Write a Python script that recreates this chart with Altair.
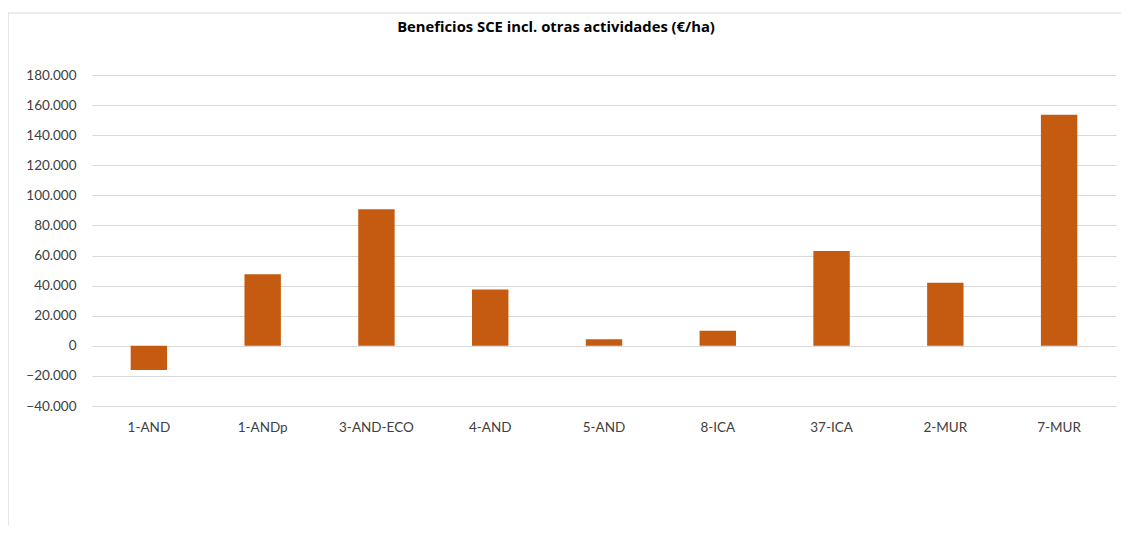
import altair as alt
import pandas as pd

categories = ["1-AND", "1-ANDp", "3-AND-ECO", "4-AND", "5-AND", "8-ICA", "37-ICA", "2-MUR", "7-MUR"]
values = [-16000, 47600, 90700, 37500, 4300, 10000, 63000, 42000, 153500]
y_ticks = [-40000, -20000, 0, 20000, 40000, 60000, 80000, 100000, 120000, 140000, 160000, 180000]
title_text = "Beneficios SCE incl. otras actividades (€/ha)"

df = pd.DataFrame({"cat": categories, "val": values})

W, H = 1024, 331
FONT = "Lato"

frame = alt.Chart(pd.DataFrame({"k": [0]})).mark_rect(
    fillOpacity=0, stroke="#d9d9d9", strokeWidth=1.2
).encode(
    x=alt.value(-84), x2=alt.value(W + 60),
    y=alt.value(-62), y2=alt.value(H + 200)
)

title = alt.Chart(pd.DataFrame({"t": [title_text]})).mark_text(
    font="Open Sans", fontSize=14.8, fontWeight="bold", color="#000000", align="center", baseline="middle"
).encode(x=alt.value(464), y=alt.value(-47), text="t:N")

bars = alt.Chart(df).mark_bar(color="#C55A11").encode(
    x=alt.X("cat:N", sort=categories, title=None,
            scale=alt.Scale(paddingInner=0.68, paddingOuter=0.34),
            axis=alt.Axis(labelAngle=0, domain=False, ticks=False, labelPadding=14,
                          labelFont=FONT, labelFontSize=13.5, labelColor="#404040", grid=False)),
    y=alt.Y("val:Q", title=None,
            scale=alt.Scale(domain=[-40000, 180000], nice=False, zero=False),
            axis=alt.Axis(values=y_ticks, domain=False, ticks=False, labelPadding=16,
                          labelFont=FONT, labelFontSize=13.5, labelColor="#404040",
                          gridColor="#d9d9d9", gridWidth=1,
                          labelExpr="replace(format(datum.value, ','), ',', '.')"))
)

chart = alt.layer(frame, bars, title).properties(
    width=W, height=H,
    autosize=alt.AutoSizeParams(type="none"),
    padding={"left": 84, "top": 67, "right": 5, "bottom": 120}
).configure_view(stroke=None)

chart.save("out.html", embed_options={"renderer": "svg", "actions": False})
